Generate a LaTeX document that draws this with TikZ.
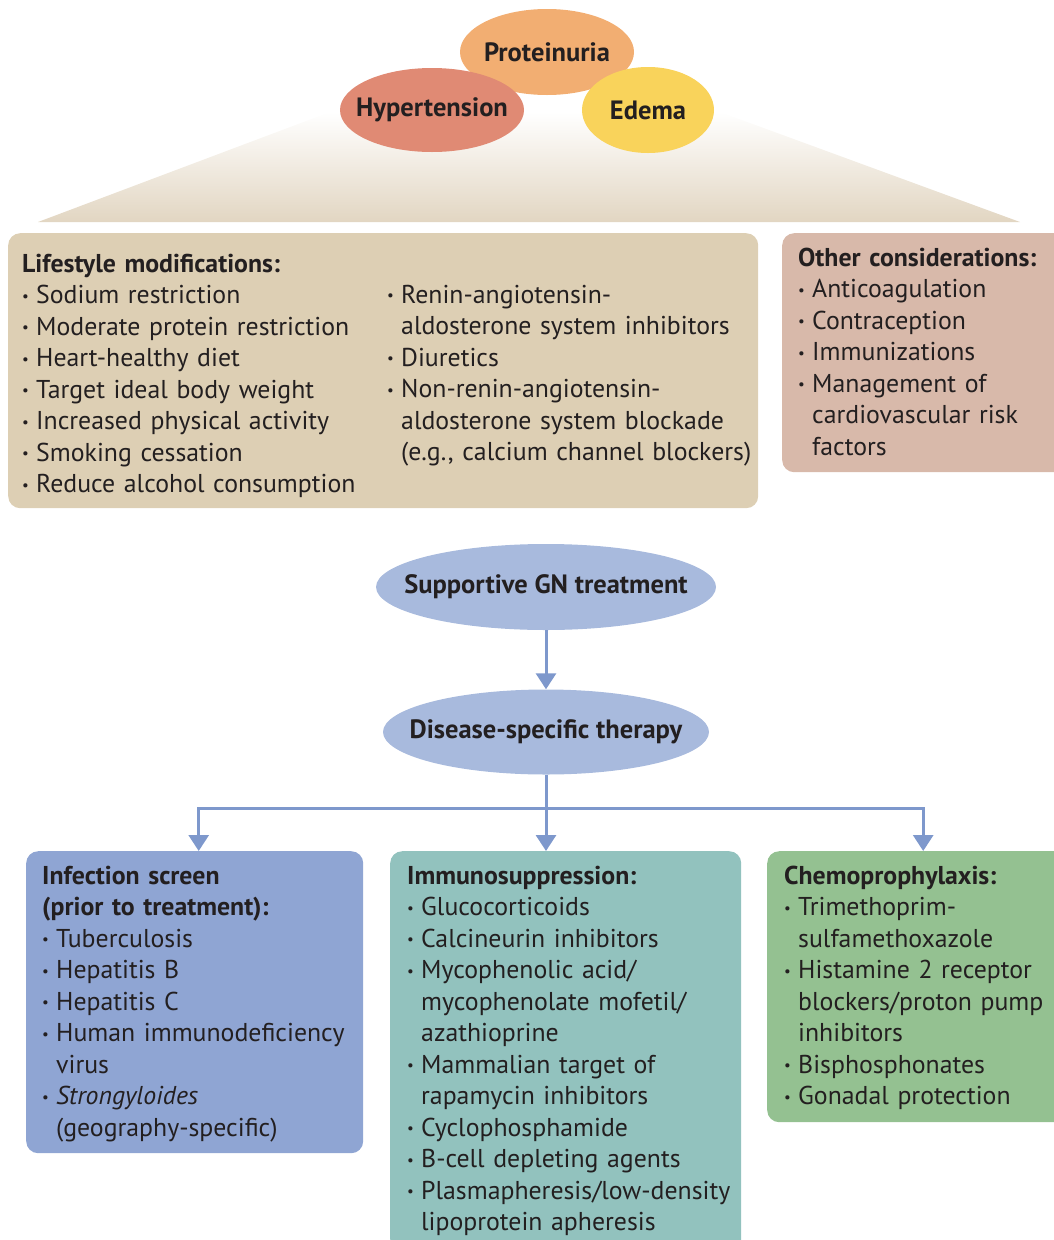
\documentclass[tikz,border=0pt]{standalone}
\usepackage{fontspec}
\setmainfont{PT Sans}
\usetikzlibrary{shapes.geometric,arrows.meta,positioning}

\definecolor{ink}{HTML}{231F20}
\definecolor{protc}{HTML}{F2AE72}
\definecolor{hypc}{HTML}{E08A74}
\definecolor{edec}{HTML}{F9D35B}
\definecolor{trapc}{HTML}{E2D6C2}
\definecolor{lifec}{HTML}{DDCFB4}
\definecolor{othc}{HTML}{D8B9AA}
\definecolor{ovalc}{HTML}{A8BADD}
\definecolor{linec}{HTML}{7E98CC}
\definecolor{infc}{HTML}{8FA5D3}
\definecolor{immc}{HTML}{92C2BE}
\definecolor{chemc}{HTML}{94C191}

\newcommand\nl{\hfil\break}
\newcommand\bulfirst[1]{\hangindent=14pt\hangafter=1\noindent
  \makebox[14pt][l]{\raisebox{2.5pt}{\fontsize{15}{15}\selectfont\textbullet}}#1}
\newcommand\bul[1]{\par\bulfirst{#1}}

\begin{document}
\begin{tikzpicture}[x=1pt,y=-1pt,
  oval/.style={ellipse,inner sep=-60pt,text=ink,font=\bfseries\fontsize{26.5}{30}\selectfont},
  panel/.style={rounded corners=12pt,anchor=north west,inner sep=0pt},
  txt/.style={anchor=base west,inner sep=0pt,align=left,text=ink,
    font=\fontsize{25.8}{31.5}\selectfont},
  flow/.style={draw=linec,line width=3pt,-{Triangle[width=20pt,length=16pt]}}]
\useasboundingbox (0,0) rectangle (1054,1240);

% top: the three signs over a fading wedge
\shade[top color=white,bottom color=trapc] (38,222) -- (330,112) -- (720,112) -- (1020,222) -- cycle;
\node[oval,fill=protc,minimum width=174pt,minimum height=86pt] (prot) at (547,52) {Proteinuria};
\node[oval,fill=hypc,minimum width=184pt,minimum height=84pt] (hyp) at (432,110) {Hypertension};
\node[oval,fill=edec,minimum width=132pt,minimum height=86pt] (ede) at (648,110) {Edema};

% supportive measures
\node[panel,fill=lifec,minimum width=750pt,minimum height=275pt] (life) at (8,233) {};
\node[txt,text width=400pt] (lifeA) at (22,272) {\textbf{Lifestyle modifications:}
  \bul{Sodium restriction}
  \bul{Moderate protein restriction}
  \bul{Heart-healthy diet}
  \bul{Target ideal body weight}
  \bul{Increased physical activity}
  \bul{Smoking cessation}
  \bul{Reduce alcohol consumption}\par};
\node[txt,text width=400pt] (lifeB) at (387,303) {\bulfirst{Renin-angiotensin-\nl aldosterone system inhibitors}
  \bul{Diuretics}
  \bul{Non-renin-angiotensin-\nl aldosterone system blockade\nl (e.g., calcium channel blockers)}\par};

\node[panel,fill=othc,minimum width=290pt,minimum height=239pt] (oth) at (782,233) {};
\node[txt,text width=300pt] (othA) at (798,266) {\textbf{Other considerations:}
  \bul{Anticoagulation}
  \bul{Contraception}
  \bul{Immunizations}
  \bul{Management of\nl cardiovascular risk\nl factors}\par};

% treatment flow
\node[oval,fill=ovalc,minimum width=340pt,minimum height=86pt] (sup) at (546,587) {Supportive GN treatment};
\node[oval,fill=ovalc,minimum width=326pt,minimum height=85pt] (dis) at (546,732) {Disease-specific therapy};

\node[panel,fill=infc,minimum width=337pt,minimum height=302pt] (infe) at (26,851) {};
\node[panel,fill=immc,minimum width=351pt,minimum height=400pt] (immu) at (390,851) {};
\node[panel,fill=chemc,minimum width=300pt,minimum height=271pt] (chem) at (767,851) {};

\node[txt,text width=360pt] (infeA) at (42,884) {\textbf{Infection screen\nl (prior to treatment):}
  \bul{Tuberculosis}
  \bul{Hepatitis B}
  \bul{Hepatitis C}
  \bul{Human immunodeficiency\nl virus}
  \bul{\textit{Strongyloides}\nl (geography-specific)}\par};
\node[txt,text width=380pt] (immuA) at (407,884) {\textbf{Immunosuppression:}
  \bul{Glucocorticoids}
  \bul{Calcineurin inhibitors}
  \bul{Mycophenolic acid/\nl mycophenolate mofetil/\nl azathioprine}
  \bul{Mammalian target of\nl rapamycin inhibitors}
  \bul{Cyclophosphamide}
  \bul{B-cell depleting agents}
  \bul{Plasmapheresis/low-density\nl lipoprotein apheresis}\par};
\node[txt,text width=320pt] (chemA) at (784,884) {\textbf{Chemoprophylaxis:}
  \bul{Trimethoprim-\nl sulfamethoxazole}
  \bul{Histamine 2 receptor\nl blockers/proton pump\nl inhibitors}
  \bul{Bisphosphonates}
  \bul{Gonadal protection}\par};

\coordinate (hub) at (546,808);
\draw[flow] (sup) -- (dis);
\draw[flow] (dis) -- (dis.south |- immu.north);
\draw[flow] (hub) -| ([xshift=4pt]infe.north);
\draw[flow] (hub) -| ([xshift=6pt]chem.north);
\end{tikzpicture}
\end{document}
